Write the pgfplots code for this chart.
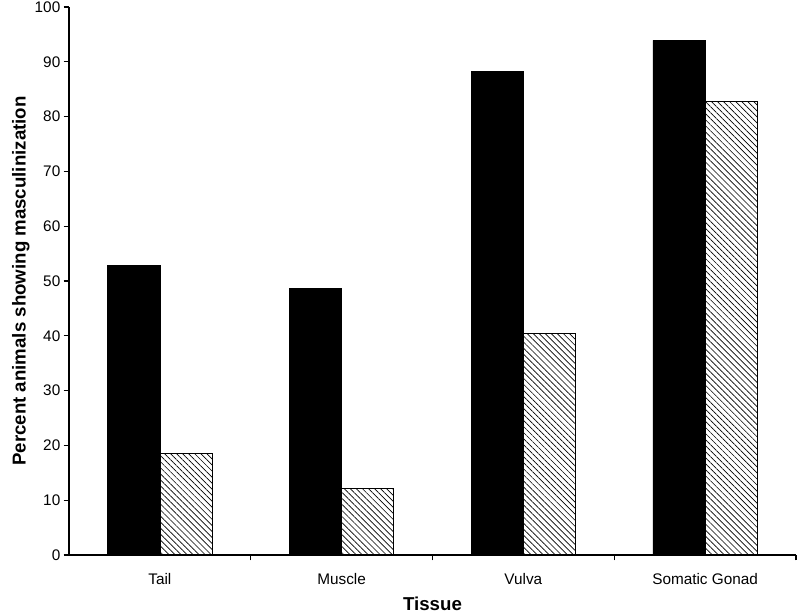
\documentclass[border=0pt]{standalone}
\usepackage{pgfplots}
\pgfplotsset{compat=1.18}
\usepackage{fontspec}
\setmainfont{Liberation Sans}
\usetikzlibrary{patterns.meta}
\begin{document}
\begin{tikzpicture}[x=0.75pt,y=0.75pt]
\useasboundingbox (0,0) rectangle (800,615);
\begin{axis}[
  at={(51.75pt,45pt)}, anchor=south west,
  scale only axis,
  width=545.25pt, height=411pt,
  xmin=-0.5, xmax=3.5,
  ymin=0, ymax=100,
  ytick={0,10,...,100},
  xtick={0,1,2,3},
  xticklabels={Tail,Muscle,Vulva,Somatic Gonad},
  minor xtick={0.5,1.5,2.5,3.5},
  major x tick style={draw=none},
  minor tick length=4pt,
  major tick length=4pt,
  tick align=outside,
  axis x line*=bottom, axis y line*=left,
  axis line style={line width=0.8pt},
  tick style={line width=0.8pt, black},
  ticklabel style={font=\fontsize{11.5}{13}\selectfont},
  yticklabel style={xshift=1pt},
  /pgf/number format/assume math mode=true,
  ybar=0pt, bar width=0.287,
  xlabel={\bfseries Tissue},
  ylabel={\bfseries Percent animals showing masculinization},
  label style={font=\fontsize{14}{16}\selectfont},
  xlabel style={yshift=-3pt},
  ylabel style={yshift=-3pt},
  xticklabel style={yshift=-6pt},
]
\addplot[fill=black, draw=black] coordinates {(0,52.9) (1,48.7) (2,88.3) (3,93.9)};
\addplot[draw=black, line width=0.6pt, pattern={Lines[angle=-45, distance=3.2pt, line width=0.5pt]}] coordinates {(0,18.6) (1,12.2) (2,40.5) (3,82.7)};
\end{axis}
\end{tikzpicture}
\end{document}
